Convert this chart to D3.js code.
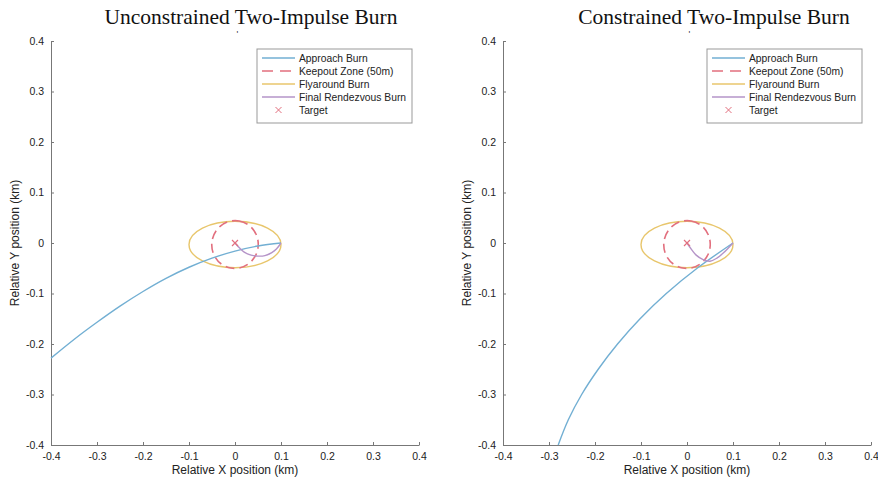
<!DOCTYPE html>
<html>
<head>
<meta charset="utf-8">
<script src="https://cdn.jsdelivr.net/npm/d3@7"></script>
<style>
  html, body { margin: 0; padding: 0; background: #fff; }
  svg { display: block; }
</style>
</head>
<body>
<svg id="chart" width="878" height="486"></svg>
<script>
// ---------- data ----------
const titles = ["Unconstrained Two-Impulse Burn", "Constrained Two-Impulse Burn"];
const xTicks = [-0.4, -0.3, -0.2, -0.1, 0, 0.1, 0.2, 0.3, 0.4];
const yTicks = [-0.4, -0.3, -0.2, -0.1, 0, 0.1, 0.2, 0.3, 0.4];
const legendLabels = ["Approach Burn", "Keepout Zone (50m)", "Flyaround Burn", "Final Rendezvous Burn", "Target"];

// Approach burn, unconstrained
const approachUX = [-0.4, -0.35, -0.3, -0.25, -0.2, -0.15, -0.1, -0.05, 0, 0.05, 0.1];
const approachUY = [-0.228, -0.191, -0.157, -0.125, -0.096, -0.070, -0.048, -0.030, -0.016, -0.006, 0];
// Approach burn, constrained
const approachCX = [-0.28, -0.258, -0.229, -0.193, -0.151, -0.102, -0.045, 0.022, 0.1];
const approachCY = [-0.4, -0.35, -0.3, -0.25, -0.2, -0.15, -0.1, -0.05, 0];
// Final rendezvous burn, unconstrained
const finalUX = [0, 0.01, 0.02, 0.035, 0.05, 0.065, 0.08, 0.09, 0.1];
const finalUY = [0, -0.01, -0.018, -0.024, -0.026, -0.025, -0.019, -0.012, 0];
// Final rendezvous burn, constrained
const finalCX = [0, 0.01, 0.02, 0.035, 0.05, 0.065, 0.08, 0.1];
const finalCY = [0, -0.013, -0.024, -0.033, -0.036, -0.03, -0.019, 0];
// Keepout zone (center x, center y, radius x, radius y)
const keepout = [0, -0.003, 0.052, 0.046];
// Flyaround ellipse (center x, center y, semi-axis x, semi-axis y)
const flyaround = [0, -0.003, 0.1, 0.046];
// Target
const target = [0, 0];

// ---------- styles ----------
const colBlue = "#72afd3", colRed = "#e26f7e", colYellow = "#e8c66c", colPurple = "#b594c8";
const sans = "Liberation Sans, Arial, sans-serif";

const svg = d3.select("#chart");

const panels = [
  { x0: 51, x1: 419, title: titles[0], titleX: 251, ax: approachUX, ay: approachUY, fx: finalUX, fy: finalUY, legX: 257, curve: d3.curveMonotoneX },
  { x0: 503, x1: 871, title: titles[1], titleX: 714, ax: approachCX, ay: approachCY, fx: finalCX, fy: finalCY, legX: 707, curve: d3.curveMonotoneY }
];
const y0 = 41, y1 = 445;

panels.forEach(p => {
  const x = d3.scaleLinear().domain([-0.4, 0.4]).range([p.x0, p.x1]);
  const y = d3.scaleLinear().domain([-0.4, 0.4]).range([y1, y0]);
  const g = svg.append("g");
  const fmt = d => d === 0 ? "0" : d.toFixed(1);

  // title
  g.append("text").attr("x", p.titleX).attr("y", 24).attr("text-anchor", "middle")
    .attr("font-family", "Liberation Serif, Times New Roman, serif").attr("font-size", 21.5)
    .attr("fill", "#111").text(p.title);
  g.append("text").attr("x", x(0.005)).attr("y", 37).attr("text-anchor", "middle")
    .attr("font-family", sans).attr("font-size", 9)
    .attr("fill", "#333").text("'");

  // axes
  const xAxis = d3.axisBottom(x).tickValues(xTicks).tickFormat(fmt).tickSizeInner(-3).tickSizeOuter(0).tickPadding(8);
  const yAxis = d3.axisLeft(y).tickValues(yTicks).tickFormat(fmt).tickSizeInner(-3).tickSizeOuter(0).tickPadding(7);
  const gx = g.append("g").attr("transform", `translate(0,${y1})`).call(xAxis);
  const gy = g.append("g").attr("transform", `translate(${p.x0},0)`).call(yAxis);
  [gx, gy].forEach(a => {
    a.select(".domain").attr("stroke", "#777").attr("stroke-width", 1);
    a.selectAll(".tick line").attr("stroke", "#777");
    a.selectAll(".tick text").attr("fill", "#222").attr("font-size", 10.5)
      .attr("font-family", sans);
  });

  // axis labels
  g.append("text").attr("x", (p.x0 + p.x1) / 2).attr("y", 474).attr("text-anchor", "middle")
    .attr("font-family", sans).attr("font-size", 12)
    .attr("fill", "#222").text("Relative X position (km)");
  g.append("text").attr("transform", `translate(${p.x0 - 32},${(y0 + y1) / 2}) rotate(-90)`)
    .attr("text-anchor", "middle")
    .attr("font-family", sans).attr("font-size", 12)
    .attr("fill", "#222").text("Relative Y position (km)");

  const approachLine = d3.line().x(d => x(d[0])).y(d => y(d[1])).curve(p.curve);
  const finalLine = d3.line().x(d => x(d[0])).y(d => y(d[1])).curve(d3.curveCatmullRom);

  // flyaround ellipse
  g.append("ellipse").attr("cx", x(flyaround[0])).attr("cy", y(flyaround[1]))
    .attr("rx", x(flyaround[2]) - x(0)).attr("ry", y(0) - y(flyaround[3]))
    .attr("fill", "none").attr("stroke", colYellow).attr("stroke-width", 1.4);
  // keepout zone
  g.append("ellipse").attr("cx", x(keepout[0])).attr("cy", y(keepout[1]))
    .attr("rx", x(keepout[2]) - x(0)).attr("ry", y(0) - y(keepout[3]))
    .attr("fill", "none").attr("stroke", colRed).attr("stroke-width", 1.6)
    .attr("stroke-dasharray", "9,5").attr("transform", `rotate(-80 ${x(keepout[0])} ${y(keepout[1])})`);
  // approach
  g.append("path").datum(p.ax.map((v, i) => [v, p.ay[i]])).attr("d", approachLine)
    .attr("fill", "none").attr("stroke", colBlue).attr("stroke-width", 1.4);
  // final rendezvous
  g.append("path").datum(p.fx.map((v, i) => [v, p.fy[i]])).attr("d", finalLine)
    .attr("fill", "none").attr("stroke", colPurple).attr("stroke-width", 1.4);
  // target
  const tx = x(target[0]), ty = y(target[1]), s = 3;
  g.append("path").attr("d", `M${tx - s},${ty - s}L${tx + s},${ty + s}M${tx - s},${ty + s}L${tx + s},${ty - s}`)
    .attr("stroke", colRed).attr("stroke-width", 1.2);

  // legend
  const lx = p.legX, ly = 49, lw = 155, lh = 74;
  const lg = g.append("g");
  lg.append("rect").attr("x", lx).attr("y", ly).attr("width", lw).attr("height", lh)
    .attr("fill", "#fff").attr("stroke", "#999").attr("stroke-width", 1);
  const cols = [colBlue, colRed, colYellow, colPurple, colRed];
  legendLabels.forEach((lab, i) => {
    const yy = ly + 9 + i * 13;
    if (i < 4) {
      lg.append("line").attr("x1", lx + 5).attr("x2", lx + 38).attr("y1", yy).attr("y2", yy)
        .attr("stroke", cols[i]).attr("stroke-width", 1.4)
        .attr("stroke-dasharray", i === 1 ? "11,7" : null);
    } else {
      const cx = lx + 21.5;
      lg.append("path").attr("d", `M${cx - 3},${yy - 3}L${cx + 3},${yy + 3}M${cx - 3},${yy + 3}L${cx + 3},${yy - 3}`)
        .attr("stroke", cols[i]).attr("stroke-width", 1);
    }
    lg.append("text").attr("x", lx + 42).attr("y", yy + 3.5)
      .attr("font-family", sans).attr("font-size", 10.3)
      .attr("fill", "#222").text(lab);
  });
});
</script>
</body>
</html>
